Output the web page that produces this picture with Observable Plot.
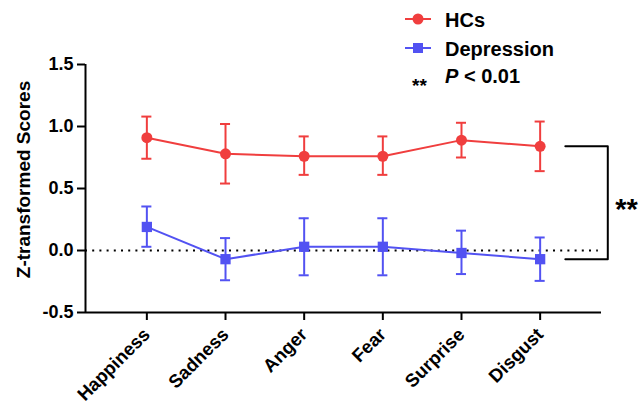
<!DOCTYPE html>
<html>
<head>
<meta charset="utf-8">
<script src="https://cdn.jsdelivr.net/npm/d3@7"></script>
<script src="https://cdn.jsdelivr.net/npm/@observablehq/plot@0.6"></script>
<style>
  html, body { margin: 0; padding: 0; background: #fff; }
  #wrap { position: relative; width: 643px; height: 411px; font-family: "Liberation Sans", Arial, sans-serif; }
  #chart svg { display: block; }
  .lg { position: absolute; font-weight: bold; font-size: 20px; line-height: 20px; color: #000; white-space: nowrap; }
  .lg svg { position: absolute; left: 0; top: 0; overflow: visible; }
</style>
</head>
<body>
<div id="wrap">
  <div id="chart"></div>
  <div id="legend"></div>
</div>
<script>
const categories = ["Happiness", "Sadness", "Anger", "Fear", "Surprise", "Disgust"];
const hcMean  = [0.91, 0.78, 0.76, 0.76, 0.89, 0.84];
const hcLow   = [0.74, 0.54, 0.61, 0.61, 0.75, 0.64];
const hcHigh  = [1.08, 1.02, 0.92, 0.92, 1.03, 1.04];
const depMean = [0.19, -0.07, 0.03, 0.03, -0.02, -0.07];
const depLow  = [0.03, -0.24, -0.20, -0.20, -0.19, -0.245];
const depHigh = [0.355, 0.10, 0.26, 0.26, 0.16, 0.105];
const yTicks  = [-0.5, 0.0, 0.5, 1.0, 1.5];
const seriesNames = ["HCs", "Depression"];
const sigMark = "**";
const sigText = "P < 0.01";
const yTitle = "Z-transformed Scores";

const RED = "#F03E3E";
const BLUE = "#5252F2";
const FONT = "Liberation Sans, Arial, sans-serif";

const hc = categories.map((c, i) => ({i, c, mean: hcMean[i], lo: hcLow[i], hi: hcHigh[i]}));
const dep = categories.map((c, i) => ({i, c, mean: depMean[i], lo: depLow[i], hi: depHigh[i]}));

const pad = 0.78;           // x padding in category steps
const xMin = -pad, xMax = categories.length - 1 + pad;
const cap = 0.064;          // half cap width in steps
const last = categories.length - 1;
const bracketTop = hcMean[last], bracketBot = depMean[last];
const bx1 = 5.32, bx2 = 5.86;
const bracket = [
  {x: bx1, y: bracketTop}, {x: bx2, y: bracketTop},
  {x: bx2, y: bracketBot}, {x: bx1, y: bracketBot}
];

function errMarks(data, color, symbol, r) {
  return [
    Plot.ruleX(data, {x: "i", y1: "lo", y2: "hi", stroke: color, strokeWidth: 2}),
    Plot.ruleY(data, {y: "hi", x1: d => d.i - cap, x2: d => d.i + cap, stroke: color, strokeWidth: 2}),
    Plot.ruleY(data, {y: "lo", x1: d => d.i - cap, x2: d => d.i + cap, stroke: color, strokeWidth: 2}),
    Plot.line(data, {x: "i", y: "mean", stroke: color, strokeWidth: 2}),
    Plot.dot(data, {x: "i", y: "mean", fill: color, symbol, r})
  ];
}

const chart = Plot.plot({
  width: 643,
  height: 411,
  marginLeft: 85,
  marginRight: 42,
  marginTop: 64,
  marginBottom: 99,
  style: {fontFamily: FONT, background: "#fff", overflow: "visible"},
  x: {domain: [xMin, xMax], axis: null},
  y: {domain: [-0.5, 1.5], axis: null},
  marks: [
    Plot.ruleY([0], {x1: xMin, x2: 5.74, stroke: "#000", strokeWidth: 2, strokeDasharray: "2,5.2"}),
    ...errMarks(hc, RED, "circle", 5.5),
    ...errMarks(dep, BLUE, "square", 5.8),
    Plot.line(bracket, {x: "x", y: "y", stroke: "#000", strokeWidth: 2, clip: false}),
    Plot.text([sigMark], {x: 5.955, y: (bracketTop + bracketBot) / 2, text: d => d, textAnchor: "start",
      fontSize: 29, fontWeight: "bold", fill: "#000", dy: 7, clip: false}),
    Plot.ruleX([xMin], {y1: -0.5, y2: 1.5, stroke: "#000", strokeWidth: 2}),
    Plot.ruleY([-0.5], {x1: xMin, x2: xMax, stroke: "#000", strokeWidth: 2}),
    Plot.axisY({ticks: yTicks, tickFormat: d => d.toFixed(1), tickSize: 8, tickPadding: 4,
      strokeWidth: 2, fontSize: 18, fontWeight: "bold", label: null, anchor: "left"}),
    Plot.axisX({ticks: d3.range(categories.length), tickFormat: i => categories[i], tickSize: 8,
      tickPadding: 11, tickRotate: -45, strokeWidth: 2, fontSize: 18.5, fontWeight: "bold", label: null, anchor: "bottom"}),
    Plot.text([yTitle], {frameAnchor: "left", textAnchor: "middle", rotate: -90, dx: -62, dy: -9, text: d => d,
      fontSize: 19, fontWeight: "bold", fill: "#000"})
  ]
});
document.getElementById("chart").appendChild(chart);

// Legend (HTML overlay above the plot area)
const legend = document.getElementById("legend");
const rows = [
  {name: seriesNames[0], color: RED, shape: "circle", top: 9},
  {name: seriesNames[1], color: BLUE, shape: "square", top: 38}
];
for (const r of rows) {
  const div = document.createElement("div");
  div.className = "lg";
  div.style.left = "405px";
  div.style.top = r.top + "px";
  div.style.width = "200px";
  div.style.height = "22px";
  const sym = r.shape === "circle"
    ? `<circle cx="13" cy="10" r="5.5" fill="${r.color}"/>`
    : `<rect x="8" y="5" width="10" height="10" fill="${r.color}"/>`;
  div.innerHTML = `<svg width="26" height="20"><line x1="0" x2="26" y1="10" y2="10" stroke="${r.color}" stroke-width="2"/>${sym}</svg>` +
    `<span style="position:absolute;left:40px;top:1px;">${r.name}</span>`;
  legend.appendChild(div);
}
const sig = document.createElement("div");
sig.className = "lg";
sig.style.left = "412px";
sig.style.top = "66px";
sig.style.width = "200px";
sig.innerHTML = `<span style="font-size:19px;position:absolute;left:0;top:10px;">${sigMark}</span>` +
  `<span style="position:absolute;left:33px;top:0;"><i>${sigText.split(" ")[0]}</i> ${sigText.split(" ").slice(1).join(" ")}</span>`;
legend.appendChild(sig);
</script>
</body>
</html>
